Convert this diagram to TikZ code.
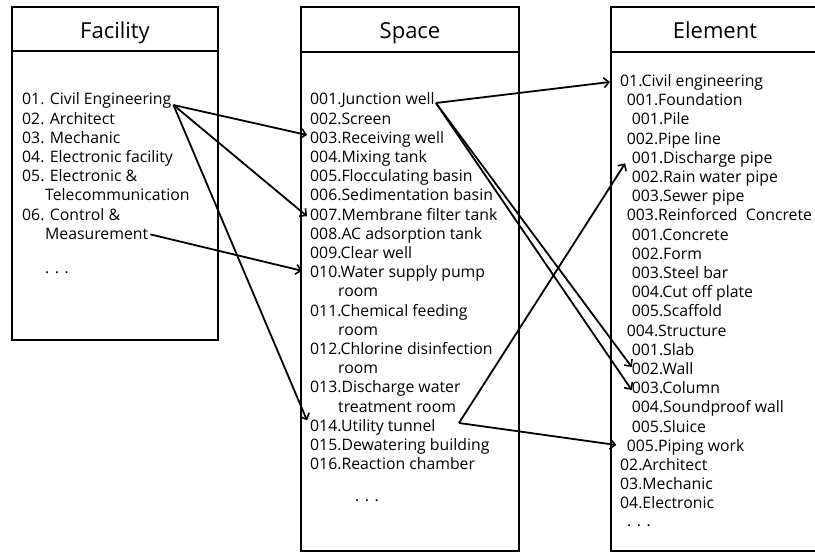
\documentclass[tikz,border=0pt]{standalone}
\usepackage{fontspec}
\setmainfont{Open Sans}
\usetikzlibrary{calc,arrows.meta}
\begin{document}
\begin{tikzpicture}[x=1pt,y=-1pt,
  txt/.style={anchor=base west,inner sep=0pt,font=\fontsize{15.8}{18}\selectfont},
  hdr/.style={anchor=base,inner sep=0pt,font=\fontsize{22}{26}\selectfont},
  frame/.style={line width=2.6pt},
  link/.style={line width=1.8pt,-{Straight Barb[length=5pt,width=10pt,line width=1.6pt]}}]
\useasboundingbox[fill=white] (0,0) rectangle (815,553);
% frames
\draw[frame] (12,7) rectangle (218,340);
\draw[frame] (12,51) -- (218,51);
\draw[frame] (301,7) rectangle (519,551);
\draw[frame] (301,52) -- (519,52);
\draw[frame] (818,7) -- (611,7) -- (611,551) -- (818,551);
\draw[frame] (611,52) -- (818,52);
% headers
\node[hdr] (hfac) at (115,39) {Facility};
\node[hdr] (hspa) at (410,39) {Space};
\node[hdr] (hele) at (715,39) {Element};
% facility
\node[txt] (fa01) at (22,105) {01. Civil Engineering};
\node[txt] (fa02) at (22,124.2) {02. Architect};
\node[txt] (fa03) at (22,143.4) {03. Mechanic};
\node[txt] (fa04) at (22,162.6) {04. Electronic facility};
\node[txt] (fa05) at (22,181.8) {05. Electronic \&};
\node[txt] (fa05b) at (45,201) {Telecommunication};
\node[txt] (fa06) at (22,220.2) {06. Control \&};
\node[txt] (fa06b) at (45,239.4) {Measurement};
\node[txt] (fadots) at (45,274) {. . .};
% space
\node[txt] (sp001) at (310,105) {001.Junction well};
\node[txt] (sp002) at (310,124.2) {002.Screen};
\node[txt] (sp003) at (310,143.4) {003.Receiving well};
\node[txt] (sp004) at (310,162.6) {004.Mixing tank};
\node[txt] (sp005) at (310,181.8) {005.Flocculating basin};
\node[txt] (sp006) at (310,201) {006.Sedimentation basin};
\node[txt] (sp007) at (310,220.2) {007.Membrane filter tank};
\node[txt] (sp008) at (310,239.4) {008.AC adsorption tank};
\node[txt] (sp009) at (310,258.6) {009.Clear well};
\node[txt] (sp010) at (310,277.8) {010.Water supply pump};
\node[txt] (sp010b) at (338,297) {room};
\node[txt] (sp011) at (310,316.2) {011.Chemical feeding};
\node[txt] (sp011b) at (338,335.4) {room};
\node[txt] (sp012) at (310,354.6) {012.Chlorine disinfection};
\node[txt] (sp012b) at (338,373.8) {room};
\node[txt] (sp013) at (310,393) {013.Discharge water};
\node[txt] (sp013b) at (338,412.2) {treatment room};
\node[txt] (sp014) at (310,431.4) {014.Utility tunnel};
\node[txt] (sp015) at (310,450.6) {015.Dewatering building};
\node[txt] (sp016) at (310,469.8) {016.Reaction chamber};
\node[txt] (spdots) at (355,502) {. . .};
% element
\node[txt] (el00) at (620,86.5) {01.Civil engineering};
\node[txt] (el01) at (626.7,105.7) {001.Foundation};
\node[txt] (el02) at (631.7,124.9) {001.Pile};
\node[txt] (el03) at (626.7,144.1) {002.Pipe line};
\node[txt] (el04) at (631.7,163.3) {001.Discharge pipe};
\node[txt] (el05) at (631.7,182.5) {002.Rain water pipe};
\node[txt] (el06) at (631.7,201.7) {003.Sewer pipe};
\node[txt] (el07) at (626.7,220.9) {003.Reinforced\ \ Concrete};
\node[txt] (el08) at (631.7,240.1) {001.Concrete};
\node[txt] (el09) at (631.7,259.3) {002.Form};
\node[txt] (el10) at (631.7,278.5) {003.Steel bar};
\node[txt] (el11) at (631.7,297.7) {004.Cut off plate};
\node[txt] (el12) at (631.7,316.9) {005.Scaffold};
\node[txt] (el13) at (626.7,336.1) {004.Structure};
\node[txt] (el14) at (631.7,355.3) {001.Slab};
\node[txt] (el15) at (631.7,374.5) {002.Wall};
\node[txt] (el16) at (631.7,393.7) {003.Column};
\node[txt] (el17) at (631.7,412.9) {004.Soundproof wall};
\node[txt] (el18) at (631.7,432.1) {005.Sluice};
\node[txt] (el19) at (626.7,451.3) {005.Piping work};
\node[txt] (el20) at (620,470.5) {02.Architect};
\node[txt] (el21) at (620,489.7) {03.Mechanic};
\node[txt] (el22) at (620,508.9) {04.Electronic};
\node[txt] (eldots) at (627,526) {. . .};
% connectors
\coordinate (ut) at (459,423);
\draw[link] ($(fa01.base east)+(2,0)$) -- ($(sp003.base west)+(-3,-8.4)$);
\draw[link] ($(fa01.base east)+(2,0)$) -- ($(sp007.base west)+(-3,-4)$);
\draw[link] ($(fa01.base east)+(2,0)$) -- ($(sp014.base west)+(-3,-11)$);
\draw[link] ($(fa06b.base east)+(2,-5)$) -- ($(sp010.base west)+(-8,-7)$);
\draw[link] ($(sp001.base east)+(1,-2)$) -- ($(el00.base west)+(-10,-4.5)$);
\draw[link] ($(sp001.base east)+(1,-2)$) -- ($(el15.base west)+(0,-7.5)$);
\draw[link] ($(sp001.base east)+(1,-2)$) -- ($(el16.base west)+(0,-3.7)$);
\draw[link] (ut) -- ($(el04.base west)+(-6.5,0)$);
\draw[link] (ut) -- ($(el19.base west)+(-10.5,-6.3)$);
\end{tikzpicture}
\end{document}
